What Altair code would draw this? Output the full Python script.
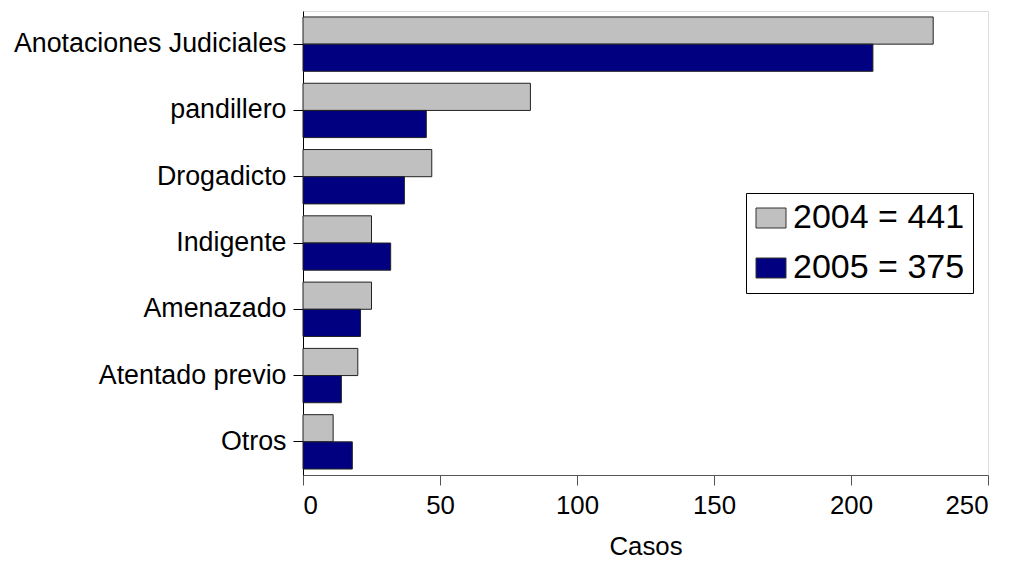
import altair as alt
import pandas as pd

categories = ["Anotaciones Judiciales", "pandillero", "Drogadicto", "Indigente",
              "Amenazado", "Atentado previo", "Otros"]
values_2004 = [230, 83, 47, 25, 25, 20, 11]
values_2005 = [208, 45, 37, 32, 21, 14, 18]
series_labels = ["2004 = 441", "2005 = 375"]
colors = ["#C0C0C0", "#000080"]
x_ticks = [0, 50, 100, 150, 200, 250]

rows = []
for c, a, b in zip(categories, values_2004, values_2005):
    rows.append({"cat": c, "serie": series_labels[0], "casos": a})
    rows.append({"cat": c, "serie": series_labels[1], "casos": b})
df = pd.DataFrame(rows)

FONT = "Liberation Sans"

chart = alt.Chart(df).mark_bar(stroke="#222222", strokeWidth=1).encode(
    y=alt.Y("cat:N", sort=categories, title=None,
            scale=alt.Scale(paddingInner=0.18, paddingOuter=0.09),
            axis=alt.Axis(labelFontSize=26.8, labelFont=FONT, labelColor="black",
                          tickSize=10, tickColor="black", domainColor="black",
                          labelPadding=7, grid=False, labelLimit=400)),
    yOffset=alt.YOffset("serie:N", sort=series_labels),
    x=alt.X("casos:Q", title="Casos",
            scale=alt.Scale(domain=[0, 250], nice=False),
            axis=alt.Axis(values=x_ticks, labelFontSize=25.8, labelFont=FONT,
                          labelColor="black", tickSize=10, tickColor="#555555",
                          domainColor="#555555", labelPadding=8, grid=False,
                          titleFontSize=25.8, titleFont=FONT, titleFontWeight="normal",
                          titleColor="black", titlePadding=17)),
    color=alt.Color("serie:N", sort=series_labels,
                    scale=alt.Scale(domain=series_labels, range=colors),
                    legend=alt.Legend(orient="none", legendX=443, legendY=182,
                                      title=None, labelFontSize=34, labelFont=FONT,
                                      labelColor="black",
                                      symbolType="M-1.5,-1H1.5V1H-1.5Z",
                                      symbolSize=400, symbolStrokeColor="#333333",
                                      symbolStrokeWidth=1, symbolOpacity=1,
                                      labelOffset=5, rowPadding=16, padding=8,
                                      strokeColor="black", fillColor="white",
                                      labelLimit=400)),
).properties(
    width=685, height=464,
    autosize=alt.AutoSizeParams(type="none"),
    padding={"left": 295, "top": 3, "right": 10, "bottom": 88},
).configure_view(stroke=None).configure(background="white")

chart.save("out.html", embed_options={"renderer": "svg", "actions": False})
